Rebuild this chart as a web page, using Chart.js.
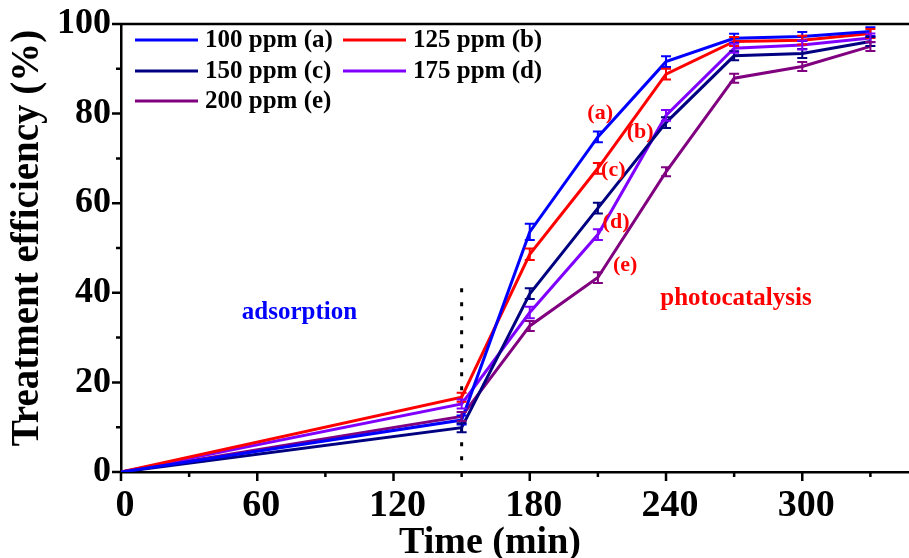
<!DOCTYPE html>
<html>
<head>
<meta charset="utf-8">
<script src="https://cdn.jsdelivr.net/npm/chart.js@4.4.1/dist/chart.umd.min.js"></script>
<style>
  html, body { margin: 0; padding: 0; background: #fff; }
  #wrap { width: 909px; height: 558px; }
</style>
</head>
<body>
<div id="wrap"><canvas id="efficiencyChart"></canvas></div>
<script>
const times = [0, 150, 180, 210, 240, 270, 300, 330];
const seriesNames = ['100 ppm (a)', '125 ppm (b)', '150 ppm (c)', '175 ppm (d)', '200 ppm (e)'];
const seriesColors = ['#0000FF', '#FF0000', '#000080', '#8000FF', '#800080'];

const ppm100 = [0, 11.6, 53.6, 74.8, 91.6, 96.8, 97.2, 98.3];
const ppm125 = [0, 16.7, 48.6, 67.8, 88.8, 96.1, 96.4, 97.9];
const ppm150 = [0, 9.9, 39.8, 58.9, 78.0, 92.9, 93.4, 96.1];
const ppm175 = [0, 15.2, 35.6, 53.0, 79.6, 94.6, 95.3, 96.9];
const ppm200 = [0, 12.4, 32.6, 43.4, 67.0, 87.9, 90.5, 95.0];

const err100 = [0, 1.0, 1.8, 1.2, 1.2, 1.0, 1.0, 1.0];
const err125 = [0, 1.0, 1.3, 1.2, 1.2, 1.0, 1.0, 1.0];
const err150 = [0, 1.0, 1.2, 1.2, 1.2, 1.0, 1.0, 1.0];
const err175 = [0, 1.0, 1.3, 1.2, 1.2, 1.0, 1.0, 1.0];
const err200 = [0, 1.0, 1.1, 1.2, 1.0, 1.0, 1.0, 1.0];

const xTicks = [0, 60, 120, 180, 240, 300];
const yTicks = [0, 20, 40, 60, 80, 100];

// phase labels and curve letters, in data coordinates
const notes = [
  { text: 'adsorption', x: 78.6, y: 35.5, color: '#0000FF', size: 25 },
  { text: 'photocatalysis', x: 270.8, y: 38.8, color: '#FF0000', size: 25 },
  { text: '(a)', x: 211, y: 80.1, color: '#FF0000', size: 22 },
  { text: '(b)', x: 228.6, y: 75.9, color: '#FF0000', size: 22 },
  { text: '(c)', x: 216.8, y: 67.4, color: '#FF0000', size: 22 },
  { text: '(d)', x: 218, y: 55.8, color: '#FF0000', size: 22 },
  { text: '(e)', x: 222, y: 46.2, color: '#FF0000', size: 22 }
];

const serif = '"Liberation Serif", "Times New Roman", serif';
const values = [ppm100, ppm125, ppm150, ppm175, ppm200];
const errors = [err100, err125, err150, err175, err200];

const datasets = values.map((v, i) => ({
  label: seriesNames[i],
  data: times.map((t, j) => ({ x: t, y: v[j] })),
  borderColor: seriesColors[i],
  backgroundColor: seriesColors[i],
  borderWidth: 3,
  pointRadius: 0,
  tension: 0,
  errors: errors[i]
}));

const errorBars = {
  id: 'errorBars',
  afterDatasetsDraw(chart) {
    const ctx = chart.ctx;
    const ys = chart.scales.y;
    chart.data.datasets.forEach((ds, i) => {
      const meta = chart.getDatasetMeta(i);
      ctx.save();
      ctx.strokeStyle = ds.borderColor;
      ctx.lineWidth = 2;
      meta.data.forEach((pt, j) => {
        const e = ds.errors[j];
        if (!e) return;
        const v = ds.data[j].y;
        const top = ys.getPixelForValue(v + e);
        const bot = ys.getPixelForValue(v - e);
        ctx.beginPath();
        ctx.moveTo(pt.x, top); ctx.lineTo(pt.x, bot);
        ctx.moveTo(pt.x - 5, top); ctx.lineTo(pt.x + 5, top);
        ctx.moveTo(pt.x - 5, bot); ctx.lineTo(pt.x + 5, bot);
        ctx.stroke();
      });
      ctx.restore();
    });
  }
};

const frame = {
  id: 'frame',
  beforeDatasetsDraw(chart) {
    const { ctx, scales: { x, y } } = chart;
    ctx.save();
    // dotted boundary at 150 min
    ctx.strokeStyle = '#000';
    ctx.lineWidth = 3;
    ctx.setLineDash([4, 10]);
    ctx.beginPath();
    ctx.moveTo(x.getPixelForValue(150), y.getPixelForValue(41));
    ctx.lineTo(x.getPixelForValue(150), y.getPixelForValue(2));
    ctx.stroke();
    ctx.restore();
  },
  afterDraw(chart) {
    const { ctx, chartArea: a, scales: { x, y } } = chart;
    ctx.save();
    ctx.strokeStyle = '#000';
    ctx.lineWidth = 2.5;
    ctx.beginPath();
    ctx.moveTo(a.left, a.top); ctx.lineTo(a.right, a.top);
    for (let t = 0; t <= 330; t += 30) {
      const px = x.getPixelForValue(t);
      ctx.moveTo(px, a.bottom); ctx.lineTo(px, a.bottom + (t % 60 === 0 ? 9 : 5));
    }
    for (let v = 0; v <= 100; v += 10) {
      const py = y.getPixelForValue(v);
      ctx.moveTo(a.left, py); ctx.lineTo(a.left - (v % 20 === 0 ? 9 : 5), py);
    }
    ctx.stroke();

    // axis titles (both sit a little off the plot centre in the original)
    ctx.fillStyle = '#000';
    ctx.textAlign = 'center';
    ctx.textBaseline = 'alphabetic';
    ctx.font = 'bold 38px ' + serif;
    ctx.fillText('Time (min)', 490, 553);
    ctx.save();
    ctx.translate(28, 238);
    ctx.rotate(-Math.PI / 2);
    ctx.textBaseline = 'middle';
    ctx.font = 'bold 39px ' + serif;
    ctx.fillText('Treatment efficiency (%)', 0, 0);
    ctx.restore();

    // legend, two columns
    const slots = [[135, 40], [343, 40], [135, 71], [343, 71], [135, 101]];
    ctx.font = 'bold 25px ' + serif;
    ctx.textBaseline = 'middle';
    chart.data.datasets.forEach((ds, i) => {
      const [lx, ly] = slots[i];
      ctx.strokeStyle = ds.borderColor;
      ctx.lineWidth = 3;
      ctx.beginPath();
      ctx.moveTo(lx, ly); ctx.lineTo(lx + 63, ly);
      ctx.stroke();
      ctx.fillStyle = '#000';
      ctx.textAlign = 'left';
      ctx.fillText(ds.label, lx + 70, ly + 1);
    });

    ctx.textAlign = 'center';
    notes.forEach(n => {
      ctx.font = 'bold ' + n.size + 'px ' + serif;
      ctx.fillStyle = n.color;
      ctx.fillText(n.text, x.getPixelForValue(n.x), y.getPixelForValue(n.y));
    });
    ctx.restore();
  }
};

new Chart(document.getElementById('efficiencyChart'), {
  type: 'line',
  data: { datasets },
  options: {
    responsive: true,
    maintainAspectRatio: false,
    animation: false,
    layout: { padding: { top: 24, right: 0, left: 0, bottom: 0 } },
    plugins: { legend: { display: false }, tooltip: { enabled: false } },
    scales: {
      x: {
        type: 'linear',
        min: 0,
        max: 347,
        afterFit: s => { s.height = 86; s.paddingLeft = 0; s.paddingRight = 0; },
        afterBuildTicks: s => { s.ticks = xTicks.map(v => ({ value: v })); },
        ticks: { padding: 11, labelOffset: 4, color: '#000', font: { family: serif, size: 38, weight: 'bold' } },
        grid: { display: false, drawTicks: false },
        border: { display: true, color: '#000', width: 2.5 },
        title: { display: false, text: 'Time (min)' }
      },
      y: {
        min: 0,
        max: 100,
        afterFit: s => { s.width = 121; s.paddingTop = 0; s.paddingBottom = 0; },
        afterBuildTicks: s => { s.ticks = yTicks.map(v => ({ value: v })); },
        ticks: { padding: 10, color: '#000', font: { family: serif, size: 36, weight: 'bold' } },
        grid: { display: false, drawTicks: false },
        border: { display: true, color: '#000', width: 2.5 },
        title: { display: false, text: 'Treatment efficiency (%)' }
      }
    }
  },
  plugins: [errorBars, frame]
});
</script>
</body>
</html>
